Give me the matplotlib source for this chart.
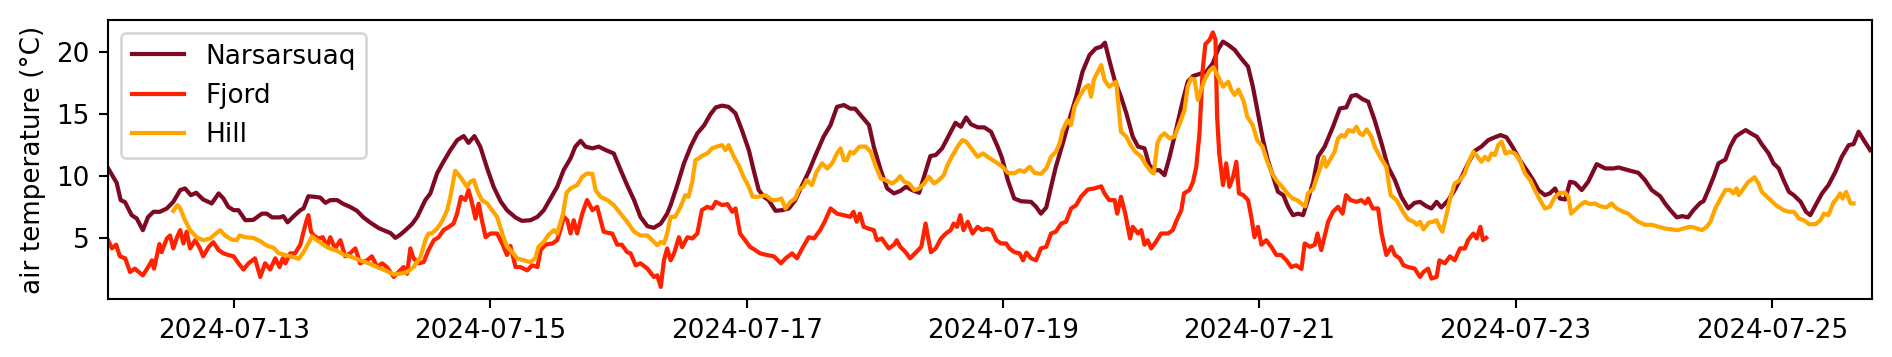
import matplotlib
matplotlib.use("Agg")
import matplotlib.pyplot as plt
import matplotlib.dates as mdates
import pandas as pd

base_time = "2024-07-12 00:00"

# Narsarsuaq: (hours since 2024-07-12 00:00, temperature °C)
nars_hours = [0.4, 2.0, 2.75, 3.56, 4.8, 5.75, 6.9, 7.9, 8.9, 10.1, 11.4, 12.6, 13.9, 14.8, 15.9, 16.9,
              18.2, 19.8, 21.1, 22.0, 22.9, 23.9, 24.8, 26.1, 27.6, 29.2, 30.1, 31.1, 32.6, 33.2, 34.0,
              35.1, 36.4, 37.0, 37.9, 39.2, 40.1, 41.1, 42.0, 43.3, 44.5, 45.7, 47.0, 48.2, 49.5, 51.1,
              52.6, 53.3, 54.2, 55.1, 56.1, 57.3, 58.3, 59.8, 60.75, 62.0, 63.2, 64.5, 65.8, 67.0, 67.9,
              69.0, 70.1, 71.4, 72.6, 73.9, 75.1, 76.7, 77.9, 79.5, 80.8, 82.0, 83.25, 84.5, 85.7, 87.0,
              87.9, 88.9, 89.8, 91.1, 92.3, 93.6, 95.1, 96.4, 97.6, 98.9, 100.1, 101.4, 102.6, 103.9,
              105.1, 105.75, 107.0, 108.25, 109.5, 110.75, 112.0, 113.2, 114.2, 115.4, 116.6, 117.9,
              119.1, 120.4, 121.3, 122.25, 123.2, 124.1, 125.4, 126.6, 127.9, 129.1, 130.4, 131.6,
              132.9, 134.4, 135.7, 136.9, 138.2, 139.4, 140.3, 141.6, 142.9, 143.8, 145.1, 146.3,
              147.6, 148.8, 149.8, 151.0, 152.3, 153.2, 154.4, 155.4, 156.6, 157.9, 159.1, 160.1,
              161.1, 162.0, 163.3, 164.5, 165.75, 167.0, 167.8, 168.9, 170.1, 171.4, 173.25, 174.2,
              175.1, 176.1, 177.0, 177.9, 179.2, 180.4, 181.7, 182.9, 184.2, 185.4, 186.4, 187.1,
              187.9, 188.9, 190.1, 191.1, 192.3, 193.3, 194.5, 195.4, 196.4, 197.3, 198.25, 199.2,
              200.4, 201.7, 202.6, 203.6, 204.8, 206.1, 207.3, 208.3, 209.2, 210.2, 211.4, 212.6,
              213.9, 214.8, 215.75, 216.7, 217.6, 218.6, 219.5, 220.5, 221.4, 222.3, 223.3, 224.2,
              225.1, 226.1, 227.0, 228.25, 229.8, 231.1, 232.3, 233.25, 234.2, 235.4, 236.4, 237.6,
              238.9, 240.1, 241.4, 242.6, 243.9, 245.1, 246.1, 247.3, 248.25, 249.2, 250.1, 251.4,
              252.6, 253.9, 255.1, 256.4, 257.6, 258.9, 260.1, 261.2, 262.3, 263.6, 264.8, 266.1,
              267.3, 268.3, 269.5, 270.4, 271.4, 272.3, 273.3, 274.2, 275.1, 276.4, 277.6, 279.2,
              280.8, 282.3, 283.3, 285.1, 287.0, 288.25, 289.5, 291.1, 292.0, 293.0, 294.2, 295.2,
              296.3, 297.3, 298.6, 299.2, 300.1, 301.1, 302.0, 303.3, 304.2, 305.2, 306.1, 307.1,
              308.3, 309.2, 310.1, 311.4, 312.3, 313.3, 314.2, 315.2, 316.1, 317.4, 318.4, 319.2,
              320.2, 321.4, 322.6, 323.9, 325.1, 326.4, 327.3, 328.25, 329.2, 330.4]
nars_temp = [10.65, 9.48, 8.09, 7.93, 6.88, 6.61, 5.67, 6.74, 7.15, 7.15, 7.42, 7.95, 8.9, 9.03, 8.49, 8.68,
             8.14, 7.82, 8.63, 8.22, 7.55, 7.28, 7.28, 6.47, 6.5, 7.0, 7.0, 6.7, 6.7, 6.8, 6.3,
             6.77, 7.28, 7.42, 8.4, 8.35, 8.3, 7.87, 8.09, 8.09, 7.77, 7.55, 7.23, 6.7, 6.28, 5.83,
             5.56, 5.43, 5.05, 5.3, 5.67, 6.15, 6.74, 8.09, 8.63, 10.24, 11.18, 12.12, 12.93, 13.25, 12.7,
             13.25, 12.39, 10.64, 9.16, 8.0, 7.28, 6.69, 6.42, 6.47, 6.74, 7.28, 8.22, 9.16, 10.5, 11.45,
             12.4, 12.87, 12.4, 12.26, 12.4, 12.12, 11.85, 10.5, 9.3, 8.09, 6.74, 5.99, 5.86, 6.2,
             7.0, 7.69, 9.3, 11.05, 12.4, 13.47, 14.1, 15.0, 15.56, 15.7, 15.6, 15.08,
             13.73, 12.12, 10.5, 8.9, 8.36, 8.09, 7.23, 7.28, 7.42, 8.09, 9.3, 10.37,
             11.72, 13.2, 14.14, 15.6, 15.75, 15.46, 15.46, 14.8, 14.14, 12.4, 10.5, 9.03,
             8.63, 8.84, 9.16, 8.9, 8.68, 9.97, 11.64, 11.72, 12.26, 13.33, 14.32, 14.0,
             14.75, 14.2, 13.95, 13.95, 13.6, 12.4, 11.5, 9.7, 8.22, 8.0, 7.95, 7.55,
             7.0, 7.5, 9.16, 10.78, 12.66, 14.54, 16.42, 18.44, 19.78, 20.32, 20.45, 20.77,
             19.38, 17.77, 16.42, 15.08, 13.2, 12.4, 12.26, 10.91, 10.5, 10.5, 10.1, 11.58,
             13.73, 16.15, 17.63, 18.09, 18.25, 18.44, 19.11, 20.24, 20.86, 20.59, 20.19, 19.51,
             18.84, 17.23, 15.08, 12.93, 11.31, 9.97, 8.76, 8.49, 7.55, 6.88, 7.0, 6.88,
             8.09, 9.57, 11.58, 12.4, 14.0, 15.48, 15.56, 16.48, 16.56, 16.21, 16.02, 14.54,
             12.66, 10.78, 9.7, 8.36, 7.42, 7.87, 7.95, 7.6, 7.42, 7.95, 7.5, 8.09,
             8.9, 9.97, 11.05, 12.07, 12.4, 12.93, 13.15, 13.33, 13.15, 12.26, 11.31, 10.5,
             9.7, 8.9, 8.49, 8.63, 9.03, 8.22, 8.14, 9.57, 9.48, 8.9, 9.57, 10.99,
             10.64, 10.64, 10.72, 10.5, 10.29, 9.7, 8.9, 8.4, 7.82, 7.28, 6.7, 6.8,
             6.7, 7.28, 7.87, 8.0, 8.9, 9.97, 11.05, 11.36, 12.4, 13.2, 13.47, 13.73,
             13.41, 13.2, 12.6, 11.85, 11.05, 10.64, 9.7, 8.76, 8.49, 7.95, 7.15, 6.88,
             7.69, 8.63, 9.3, 10.37, 11.58, 12.52, 12.6, 13.6, 12.93, 12.12]

# Fjord
fjord_hours = [0.4, 1.1, 1.9, 2.6, 3.6, 4.5, 5.4, 6.9, 7.9, 8.6, 9.0, 10.0, 10.4, 11.4, 12.0, 12.6, 13.3,
               13.9, 14.5, 15.1, 15.75, 16.7, 17.6, 18.2, 19.2, 20.1, 21.1, 22.0, 22.9, 23.9, 24.8,
               25.75, 26.7, 27.9, 28.9, 29.8, 30.75, 31.7, 32.5, 33.1, 33.6, 34.5, 35.4, 36.4, 37.0,
               37.5, 37.9, 38.4, 38.9, 39.8, 40.6, 41.4, 42.0, 42.9, 43.9, 44.8, 45.7, 46.7, 47.6,
               48.9, 49.8, 50.8, 51.7, 52.6, 53.9, 54.8, 55.75, 56.4, 57.0, 57.6, 58.6, 59.5, 60.4,
               61.4, 62.3, 63.2, 64.1, 65.1, 65.75, 66.5, 67.3, 67.9, 68.5, 69.2, 69.8, 70.4, 71.1,
               72.0, 73.25, 74.2, 75.1, 75.75, 76.7, 77.6, 78.9, 79.8, 80.8, 81.4, 82.3, 83.6, 84.5,
               85.1, 85.75, 86.4, 87.0, 87.6, 88.25, 89.2, 90.1, 91.1, 92.0, 93.2, 94.1, 94.8, 95.75,
               96.6, 97.6, 98.25, 99.2, 100.1, 101.4, 102.6, 103.25, 103.9, 104.5, 105.1, 105.75,
               106.4, 107.3, 107.9, 108.9, 109.8, 110.75, 111.6, 112.6, 113.5, 114.2, 115.4, 116.4,
               117.3, 117.9, 118.75, 119.7, 120.6, 121.6, 122.5, 123.75, 125.1, 126.4, 127.3, 128.5,
               129.4, 130.4, 131.6, 132.6, 133.75, 134.6, 135.7, 136.9, 138.1, 139.4, 140.0, 140.6,
               141.2, 141.9, 142.8, 143.8, 144.4, 145.3, 146.6, 147.6, 148.1, 148.75, 149.75, 150.6,
               151.75, 152.7, 153.5, 153.9, 154.5, 155.4, 156.4, 157.3, 158.2, 158.75, 159.4, 160.0,
               160.6, 161.4, 162.3, 163.25, 164.1, 165.0, 165.9, 166.75, 167.6, 168.6, 169.2, 170.1,
               171.1, 171.75, 172.4, 173.25, 174.2, 175.1, 176.1, 177.0, 177.9, 178.9, 179.8, 180.75,
               181.7, 182.6, 183.9, 185.1, 186.4, 187.0, 187.9, 188.9, 189.4, 190.1, 190.9, 191.8,
               192.3, 193.3, 193.9, 194.5, 195.1, 195.75, 196.6, 197.6, 198.9, 199.8, 200.4, 201.4,
               201.9, 202.9, 203.6, 204.2, 204.8, 205.4, 205.9, 206.7, 207.3, 207.8, 208.1, 208.5,
               209.2, 209.8, 210.4, 211.1, 211.7, 212.2, 213.0, 213.9, 214.5, 215.1, 215.75, 216.4,
               217.3, 218.25, 219.2, 220.1, 221.1, 222.0, 222.9, 223.9, 224.5, 225.5, 226.4, 226.9,
               227.6, 228.9, 229.8, 230.75, 231.6, 232.25, 233.1, 234.2, 235.1, 235.9, 236.4, 237.25,
               238.25, 238.9, 239.8, 240.75, 241.4, 242.3, 243.0, 243.9, 245.1, 246.1, 246.75, 247.6,
               248.25, 249.2, 249.75, 250.75, 251.7, 252.6, 253.6, 254.5, 255.1, 256.1, 256.7, 257.4,
               257.9, 258.5]
fjord_temp = [4.86, 4.2, 4.5, 3.56, 3.4, 2.3, 2.57, 2.03, 2.7, 3.24, 2.57, 4.55, 3.9, 5.0, 5.24, 4.2, 5.1,
              5.67, 4.6, 5.55, 4.2, 4.86, 4.2, 3.56, 4.3, 4.7, 4.06, 3.8, 3.67, 3.56, 3.0,
              2.5, 3.0, 3.4, 1.9, 3.0, 2.5, 3.4, 2.7, 3.4, 3.0, 3.8, 3.8, 4.5, 5.55,
              6.35, 6.88, 5.55, 5.24, 5.0, 5.1, 4.33, 5.1, 4.2, 4.86, 3.56, 3.8, 4.2, 3.0,
              3.24, 3.56, 2.7, 3.0, 2.7, 1.9, 2.3, 2.7, 2.16, 4.2, 3.4, 3.0, 3.1, 4.06,
              4.86, 5.1, 5.67, 5.9, 6.2, 7.0, 8.36, 8.1, 8.9, 7.95, 6.6, 7.8, 6.47, 5.1,
              5.4, 5.4, 4.6, 3.67, 4.4, 2.7, 2.7, 2.43, 2.84, 2.7, 4.06, 4.5, 4.6, 4.86,
              5.67, 6.74, 6.47, 5.4, 6.47, 5.4, 7.0, 8.1, 7.28, 7.55, 5.55, 5.45, 5.4, 4.5,
              4.5, 3.9, 3.8, 2.84, 3.0, 2.57, 1.9, 2.03, 1.1, 3.24, 4.2, 3.24,
              3.8, 5.1, 4.3, 5.1, 5.0, 5.4, 7.28, 7.55, 7.42, 7.95, 7.69, 7.77,
              7.15, 7.42, 5.4, 4.86, 4.33, 4.06, 3.8, 3.67, 3.56, 3.0, 3.4, 3.8,
              3.4, 4.2, 5.1, 5.0, 5.67, 6.35, 7.42, 7.0, 6.88, 6.74, 7.15, 6.35,
              7.0, 5.94, 5.8, 5.67, 4.86, 5.0, 4.2, 4.5, 4.86, 4.33, 3.9, 3.4,
              3.9, 4.33, 6.2, 5.24, 3.9, 4.2, 5.0, 5.4, 5.67, 6.2, 5.94, 6.88,
              5.67, 6.35, 5.4, 5.94, 5.67, 5.8, 5.67, 4.86, 4.6, 4.6, 4.2, 3.9,
              3.8, 3.24, 3.86, 3.4, 3.24, 4.2, 4.33, 5.4, 5.55, 6.2, 6.35, 7.42,
              7.69, 8.36, 8.95, 9.03, 9.2, 8.63, 8.09, 8.09, 7.0, 8.36, 7.0, 5.0,
              5.94, 5.4, 5.67, 4.5, 4.86, 4.2, 4.7, 5.4, 5.4, 5.67, 6.35, 7.28,
              8.63, 8.9, 9.57, 10.78, 13.47, 18.57, 20.66, 21.0, 21.6, 21.0, 14.8, 11.85,
              9.3, 11.05, 9.16, 9.97, 11.18, 8.63, 8.49, 8.09, 6.74, 5.1, 5.94, 4.5,
              4.86, 4.33, 3.67, 3.67, 3.24, 2.7, 2.84, 2.55, 4.6, 4.33, 4.5, 5.4,
              4.06, 6.35, 7.15, 7.55, 7.0, 8.49, 8.09, 7.95, 8.09, 7.82, 8.22, 7.42,
              7.42, 5.4, 3.67, 4.33, 3.67, 3.4, 2.84, 2.7, 2.57, 1.9, 2.3, 2.57,
              1.77, 1.9, 3.24, 3.0, 3.56, 3.24, 4.2, 4.2, 4.86, 5.4, 5.0, 5.94,
              4.86, 5.05]

# Hill
hill_hours = [12.6, 13.4, 13.9, 14.8, 15.75, 17.0, 18.2, 19.5, 20.6, 21.4, 22.3, 23.6, 24.5, 25.0, 26.1,
              27.6, 28.9, 30.1, 31.4, 32.3, 33.9, 35.1, 36.1, 37.0, 37.9, 38.6, 39.5, 40.4, 41.6,
              43.3, 44.5, 46.1, 47.6, 49.2, 50.8, 52.3, 53.9, 55.1, 56.4, 57.6, 58.9, 59.8, 60.4,
              61.0, 62.0, 62.9, 63.9, 64.5, 65.4, 66.1, 67.0, 67.6, 68.25, 68.9, 69.5, 70.4, 71.4,
              72.3, 73.25, 74.2, 75.1, 76.1, 77.0, 78.25, 79.5, 80.4, 81.0, 82.0, 82.9, 83.9, 84.5,
              85.6, 86.25, 87.0, 88.25, 89.2, 90.1, 91.1, 91.7, 92.6, 93.9, 95.1, 96.4, 97.6, 98.9,
              100.1, 101.4, 102.6, 103.25, 103.9, 104.5, 105.1, 105.75, 106.6, 107.6, 108.5, 109.1,
              109.8, 110.4, 111.0, 111.6, 112.6, 113.5, 114.4, 115.4, 116.0, 116.6, 117.6, 118.5,
              119.4, 120.4, 121.1, 122.25, 123.5, 124.75, 125.6, 126.5, 127.25, 128.2, 129.1, 129.75,
              130.6, 131.25, 132.2, 133.1, 134.1, 135.1, 136.0, 136.9, 137.6, 138.2, 138.75, 139.4,
              140.0, 141.1, 142.3, 143.2, 144.1, 145.1, 146.0, 147.25, 148.1, 148.75, 149.5, 150.4,
              151.4, 152.3, 153.25, 154.1, 155.1, 156.0, 156.9, 157.6, 158.4, 159.5, 160.4, 161.1,
              162.3, 163.25, 164.25, 165.1, 166.1, 167.0, 167.9, 168.9, 170.1, 171.1, 172.0, 173.0,
              173.9, 175.1, 176.1, 177.0, 177.9, 178.6, 179.2, 180.1, 180.75, 181.4, 182.3, 183.25,
              184.0, 184.5, 185.0, 185.6, 186.4, 187.0, 187.9, 189.2, 190.1, 191.1, 191.9, 192.8,
              193.9, 194.8, 195.75, 196.25, 196.9, 197.5, 198.25, 199.2, 200.1, 201.1, 202.0, 202.6,
              203.25, 203.9, 204.5, 205.1, 205.75, 206.7, 207.4, 208.3, 209.2, 210.2, 210.75, 211.4,
              212.1, 213.1, 213.75, 214.75, 215.6, 216.6, 217.5, 218.4, 219.4, 220.3, 221.25, 222.25,
              223.1, 223.9, 224.6, 225.1, 226.1, 226.75, 227.4, 228.1, 228.5, 229.2, 230.1, 230.75,
              231.4, 232.0, 232.7, 233.6, 234.2, 234.8, 235.4, 236.1, 237.0, 237.6, 238.6, 239.8,
              240.6, 241.7, 242.9, 243.9, 244.9, 245.5, 246.1, 246.75, 247.75, 248.6, 249.2, 249.75,
              250.3, 251.1, 251.75, 252.6, 253.6, 254.5, 255.1, 256.1, 256.9, 257.6, 258.25, 258.9,
              259.5, 260.1, 260.75, 261.4, 262.1, 262.9, 263.9, 264.8, 265.75, 266.75, 267.6, 268.6,
              269.5, 270.4, 271.4, 272.3, 273.3, 273.9, 274.4, 275.1, 276.1, 277.0, 277.9, 278.9,
              279.8, 281.0, 282.0, 282.9, 284.2, 285.1, 286.1, 287.0, 288.25, 289.5, 290.8, 292.0,
              293.3, 294.4, 295.4, 296.6, 297.3, 298.9, 299.8, 300.5, 301.4, 302.4, 303.3, 304.2,
              304.8, 305.4, 305.8, 306.7, 307.6, 308.75, 309.5, 310.1, 311.1, 311.75, 312.75, 314.2,
              315.2, 316.1, 317.1, 318.0, 319.0, 320.2, 321.1, 321.75, 322.6, 323.6, 324.2, 324.8,
              325.25, 325.9, 326.75, 327.3]
hill_temp = [7.23, 7.69, 7.42, 6.47, 5.67, 5.08, 4.86, 5.0, 5.4, 5.67, 5.24, 4.9, 4.86, 5.24, 5.1,
             5.05, 4.78, 4.43, 4.25, 3.82, 3.63, 3.5, 3.36, 3.9, 4.6, 5.17, 4.86, 4.6, 4.25,
             4.0, 3.7, 3.5, 3.24, 3.0, 2.7, 2.43, 2.1, 2.16, 2.3, 2.7, 3.5, 4.86, 5.4,
             5.4, 5.8, 6.35, 7.28, 8.36, 10.45, 10.1, 9.57, 9.16, 9.57, 9.7, 8.9, 8.09, 7.82,
             7.28, 6.74, 5.4, 4.33, 3.9, 3.4, 3.24, 3.1, 3.4, 4.33, 4.73, 5.3, 5.67, 5.4,
             7.0, 8.68, 9.03, 9.3, 9.97, 10.24, 10.2, 8.9, 8.36, 8.09, 7.69, 7.0, 6.35, 5.55,
             5.24, 5.24, 4.73, 4.46, 4.73, 4.6, 5.4, 6.74, 6.74, 7.55, 8.49, 8.36,
             9.57, 11.31, 11.45, 11.65, 11.85, 12.26, 12.4, 12.52, 12.12, 12.52, 11.58, 10.91,
             9.97, 9.16, 8.36, 8.36, 8.49, 8.09, 8.09, 8.22, 7.42, 7.95, 8.22, 8.9,
             9.16, 9.7, 9.3, 10.37, 11.05, 10.64, 11.05, 11.85, 12.26, 11.31, 11.31, 11.98,
             11.85, 12.4, 12.4, 11.98, 10.91, 9.84, 9.7, 9.43, 9.7, 10.02, 9.57, 9.43,
             8.9, 9.03, 9.43, 9.97, 9.43, 9.7, 10.1, 10.91, 11.58, 12.4, 12.93, 12.8,
             12.12, 11.58, 11.85, 11.58, 11.31, 11.05, 10.78, 10.3, 10.24, 10.5, 10.37, 10.78,
             10.29, 10.2, 10.64, 11.58, 11.98, 12.66, 13.73, 14.54, 14.14, 15.6, 16.42, 17.1,
             17.36, 16.42, 17.77, 18.3, 18.97, 17.77, 17.23, 17.63, 13.6, 13.2, 12.52, 11.98,
             11.58, 10.91, 10.37, 10.24, 12.66, 13.2, 13.47, 13.06, 13.2, 14.27, 15.35, 17.23,
             17.9, 17.77, 16.15, 16.96, 17.77, 18.52, 18.79, 18.03, 17.23, 17.63, 16.96, 16.56,
             17.0, 16.02, 14.8, 14.14, 12.93, 12.4, 11.18, 10.24, 9.57, 9.16, 8.63, 8.22,
             8.09, 7.8, 7.58, 8.63, 9.0, 9.9, 10.64, 11.58, 10.78, 11.31, 11.98, 13.06,
             13.33, 13.2, 13.73, 13.6, 14.0, 13.47, 13.33, 13.79, 13.2, 12.4, 11.58, 10.78,
             8.49, 8.09, 7.15, 6.53, 6.35, 6.1, 6.35, 5.73, 6.28, 6.35, 6.47, 5.94,
             5.55, 7.0, 8.22, 9.43, 9.7, 10.24, 11.05, 11.98, 11.58, 11.18, 11.58, 11.31,
             11.85, 11.72, 12.52, 12.8, 11.85, 11.98, 11.85, 11.31, 10.24, 9.7, 8.9, 8.09,
             7.42, 7.55, 8.36, 8.68, 8.68, 8.36, 7.0, 7.28, 7.69, 7.95, 7.77, 7.82,
             7.6, 7.5, 7.82, 7.42, 7.15, 7.0, 6.61, 6.35, 6.1, 6.1, 5.94, 5.8,
             5.73, 5.67, 5.8, 5.94, 5.9, 5.67, 5.94, 6.35, 7.42, 8.22, 8.9, 8.9,
             8.63, 9.03, 8.49, 9.03, 9.57, 9.93, 9.43, 8.76, 8.36, 8.09, 7.69, 7.28,
             7.15, 7.15, 6.61, 6.47, 6.15, 6.15, 6.47, 7.0, 6.88, 7.95, 8.22, 8.63,
             8.22, 8.76, 7.82, 7.82]

series = [("Narsarsuaq", nars_hours, nars_temp, "#7d0a22"),
          ("Fjord", fjord_hours, fjord_temp, "#ff2200"),
          ("Hill", hill_hours, hill_temp, "#ffa500")]

t0 = pd.Timestamp(base_time)

def to_time(hours):
    return t0 + pd.to_timedelta(hours, unit="h")

DPI = 189.2
fig = plt.figure(figsize=(1892 / DPI, 357 / DPI), dpi=DPI)
ax = fig.add_axes([108 / 1892, 1 - 299.3 / 357, (1871.7 - 108) / 1892, (299.3 - 20) / 357])

for name, hrs, vals, col in series:
    ax.plot(to_time(hrs), vals, color=col, lw=1.6, label=name)

ax.set_xlim(to_time([0.375])[0], to_time([330.7])[0])
ax.set_ylim(0.1, 22.6)
ax.set_yticks([5, 10, 15, 20])
ax.xaxis.set_major_locator(mdates.DayLocator(bymonthday=[13, 15, 17, 19, 21, 23, 25]))
ax.xaxis.set_major_formatter(mdates.DateFormatter("%Y-%m-%d"))
ax.set_ylabel("air temperature (°C)")
ax.legend(loc="upper left")

fig.savefig("out.png", dpi=DPI)
